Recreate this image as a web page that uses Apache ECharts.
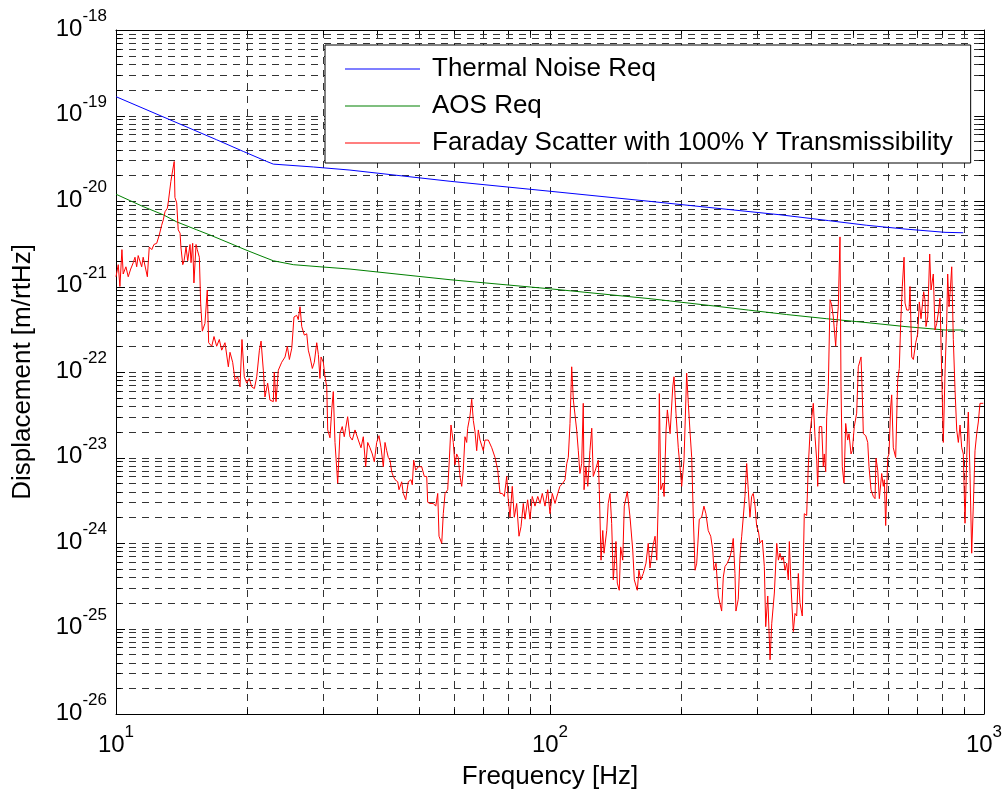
<!DOCTYPE html>
<html>
<head>
<meta charset="utf-8">
<script src="https://cdn.jsdelivr.net/npm/echarts@6/dist/echarts.min.js"></script>
<style>html,body{margin:0;padding:0;background:#fff}#c{width:1003px;height:795px}</style>
</head>
<body>
<div id="c"></div>
<script>
// ---------------- data ----------------
const seriesNames = ['Thermal Noise Req', 'AOS Req', 'Faraday Scatter with 100% Y Transmissibility'];

const freqThermal = [10, 17.06, 19.65, 22.25, 23.04, 28.49, 34.6, 58.85, 100, 170, 338.8, 437.8, 536.8, 657.7, 813.1, 896.1];
const dispThermal = [1.66e-19, 5.2e-20, 3.8e-20, 2.9e-20, 2.7e-20, 2.5e-20, 2.3e-20, 1.7e-20, 1.3e-20, 9.9e-21, 6.9e-21, 5.9e-21, 5.2e-21, 4.7e-21, 4.3e-21, 4.25e-21];

const freqAOS = [10, 11.55, 12.85, 13.80, 15.35, 16.47, 18.31, 19.83, 21.47, 23.04, 25.62, 29.51, 34.6, 58.85, 100, 170, 240, 286.3, 351.1, 434.1, 532, 657.7, 813.1, 896.1];
const dispAOS = [1.2e-20, 8.6e-21, 6.9e-21, 5.7e-21, 4.6e-21, 4.0e-21, 3.2e-21, 2.7e-21, 2.3e-21, 2.0e-21, 1.8e-21, 1.7e-21, 1.6e-21, 1.2e-21, 9.4e-22, 7.2e-22, 5.9e-22, 5.3e-22, 4.7e-22, 4.2e-22, 3.8e-22, 3.4e-22, 3.1e-22, 3.1e-22];

const freqFaraday = [
10.00,10.12,10.21,10.32,10.39,10.54,10.67,10.81,10.96,11.06,
11.16,11.25,11.46,11.55,11.81,11.93,12.09,12.23,12.41,12.58,
12.74,12.85,12.97,13.13,13.20,13.32,13.38,13.51,13.62,13.67,
13.80,13.91,14.05,14.11,14.25,14.35,14.50,14.63,14.81,14.89,
15.02,15.12,15.29,15.39,15.56,15.67,15.81,16.03,16.23,16.35,
16.62,16.82,17.06,17.30,17.52,17.83,18.15,18.31,18.57,18.80,
19.07,19.31,19.51,19.75,20.01,20.28,20.55,20.84,21.10,21.40,
21.59,21.85,22.04,22.36,22.63,23.04,23.16,23.37,23.66,24.09,
24.52,24.82,25.09,25.41,25.71,26.08,26.30,26.55,26.79,27.16,
27.51,27.74,27.99,28.34,28.64,29.01,29.26,29.51,29.68,30.04,
30.31,30.59,30.75,31.12,31.41,31.67,31.96,32.42,32.81,33.21,
33.57,33.82,34.18,34.60,35.03,35.54,36.17,36.69,37.14,37.61,
38.02,38.48,38.95,39.37,39.87,40.36,40.80,41.30,41.67,42.05,
42.41,42.79,43.18,43.55,43.95,44.58,44.88,45.53,45.92,46.51,
47.15,47.83,48.16,48.52,49.04,49.72,50.63,51.33,51.99,52.26,
52.91,53.84,54.54,55.12,55.50,56.30,56.77,57.30,58.12,58.61,
59.14,59.86,60.40,60.95,61.47,62.03,62.60,63.12,63.69,64.27,
64.61,65.42,66.01,66.58,67.18,67.78,68.36,68.98,69.60,70.20,
70.83,72.09,73.42,74.71,75.78,76.71,77.65,78.48,79.47,80.15,
80.87,81.86,82.74,83.80,84.83,85.74,86.79,87.58,88.82,89.92,
91.02,92.34,93.71,94.84,96.00,97.39,98.79,100.0,101.2,102.7,
104.2,105.4,107.0,108.3,109.3,110.2,111.2,112.2,113.2,115.2,
116.2,117.2,118.3,119.3,119.8,121.0,122.2,123.6,124.8,125.8,
127.6,129.2,129.9,131.1,132.3,133.2,135.1,136.2,137.5,138.7,
139.9,141.9,142.9,144.4,145.5,147.1,148.3,150.7,152.9,155.1,
156.4,158.9,160.3,161.8,164.0,166.4,168.4,170.0,172.5,174.6,
176.2,177.7,178.6,180.0,181.9,183.2,185.1,186.4,189.1,191.8,
193.1,195.1,197.5,199.3,201.1,203.6,206.5,208.3,210.2,212.1,
213.9,215.9,217.8,220.8,223.6,226.3,228.7,231.5,234.6,237.1,
238.7,241.3,244.2,246.4,248.6,250.8,253.0,256.1,259.8,262.2,
264.4,266.8,268.2,271.5,274.0,276.5,278.8,281.3,283.9,286.3,
288.9,291.5,294.0,296.8,299.4,302.0,304.7,308.5,311.8,314.1,
317.5,321.4,324.3,328.8,333.0,335.9,338.8,341.9,344.8,347.9,
351.1,354.1,356.0,359.2,363.6,366.9,370.2,373.4,376.7,381.3,
385.4,390.3,393.6,397.2,400.8,404.3,408.0,411.7,413.9,417.4,
422.7,426.3,428.5,431.8,434.1,437.8,441.8,445.7,449.6,455.3,
457.7,461.6,465.8,468.3,471.5,475.8,480.1,485.2,488.6,493.8,
497.2,502.5,508.9,513.3,520.8,524.4,527.2,534.0,539.6,543.3,
549.1,555.9,560.9,563.9,569.0,573.9,581.2,586.1,589.3,593.6,
600.0,604.1,609.5,612.8,618.0,625.9,632.6,638.0,642.7,648.3,
654.3,657.7,663.7,671.8,675.4,681.5,687.4,696.1,703.5,709.5,
715.9,720.8,726.1,731.1,735.2,741.8,749.7,754.9,764.2,771.1,
778.1,784.7,791.8,799.0,805.8,813.1,820.4,824.8,830.6,836.3,
842.6,849.8,857.5,865.3,872.7,880.6,888.5,896.1,904.2,912.4,
920.1,928.4,936.8,944.8,953.4,962.1,970.3,979.0,987.9,996.3
];
const dispFaraday = [
1.3e-21,1.8e-21,1.0e-21,2.7e-21,1.4e-21,1.7e-21,1.3e-21,1.6e-21,1.9e-21,2.2e-21,
1.7e-21,2.3e-21,1.7e-21,2.2e-21,1.3e-21,2.9e-21,2.7e-21,3.1e-21,3.2e-21,4.0e-21,
5.2e-21,6.0e-21,7.5e-21,8.2e-21,9.8e-21,1.03e-20,1.7e-20,2.3e-20,2.9e-20,1.1e-20,
9.5e-21,4.6e-21,4.2e-21,2.9e-21,1.8e-21,2.0e-21,2.9e-21,2.0e-21,3.1e-21,1.9e-21,
3.2e-21,1.1e-21,3.1e-21,2.7e-21,2.2e-21,6.4e-22,3.0e-22,3.7e-22,9.1e-22,2.2e-22,
2.0e-22,2.6e-22,2.0e-22,2.4e-22,1.8e-22,2.2e-22,1.15e-22,1.7e-22,1.3e-22,8.1e-23,
8.8e-23,6.7e-23,2.4e-22,8.8e-23,7.4e-23,8.4e-23,6.7e-23,6.4e-23,8.8e-23,1.8e-22,
2.3e-22,1.05e-22,5.1e-23,7.4e-23,4.7e-23,4.5e-23,1.0e-22,4.5e-23,1.05e-22,1.3e-22,
1.5e-22,2.0e-22,1.4e-22,1.9e-22,4.4e-22,4.6e-22,4.1e-22,5.8e-22,3.4e-22,2.7e-22,
2.8e-22,1.8e-22,1.5e-22,1.1e-22,1.3e-22,2.2e-22,1.6e-22,8.4e-23,1.5e-22,1.3e-22,
8.8e-23,6.7e-23,2.1e-23,1.7e-23,3.6e-23,5.9e-23,1.5e-23,5.0e-24,1.9e-23,2.3e-23,
1.75e-23,2.2e-23,3.0e-23,1.75e-23,1.6e-23,2.1e-23,1.6e-23,1.3e-23,1.75e-23,7.8e-24,
1.5e-23,1.3e-23,1.1e-23,8.9e-24,1.5e-23,1.8e-23,1.3e-23,7.8e-24,1.5e-23,1.2e-23,
1.0e-23,9.3e-24,6.8e-24,6.0e-24,5.5e-24,5.2e-24,4.2e-24,5.2e-24,3.8e-24,3.2e-24,
5.2e-24,5.5e-24,4.8e-24,9.3e-24,7.1e-24,7.8e-24,7.8e-24,6.0e-24,6.0e-24,3.0e-24,
2.9e-24,2.9e-24,2.7e-24,3.8e-24,1.2e-24,9.9e-25,2.2e-24,3.8e-24,4.2e-24,9.3e-24,
2.4e-23,1.5e-23,8.2e-24,1.1e-23,1.0e-23,6.0e-24,4.6e-24,7.1e-24,1.75e-23,1.5e-23,
2.2e-23,3.1e-23,4.8e-23,2.7e-23,2.0e-23,1.2e-23,2.1e-23,1.6e-23,1.6e-23,1.2e-23,
1.6e-23,1.6e-23,1.3e-23,1.0e-23,7.1e-24,3.8e-24,3.8e-24,3.5e-24,6.0e-24,3.2e-24,
2.0e-24,4.6e-24,2.0e-24,2.9e-24,1.2e-24,1.55e-24,2.9e-24,1.9e-24,3.2e-24,1.9e-24,
3.5e-24,2.7e-24,3.5e-24,2.9e-24,3.8e-24,2.7e-24,4.2e-24,2.2e-24,3.8e-24,2.9e-24,
3.8e-24,4.6e-24,5.0e-24,5.5e-24,8.5e-24,1.0e-23,2.5e-23,1.15e-22,4.7e-23,2.1e-23,
1.2e-23,6.5e-24,8.5e-24,4.3e-23,4.2e-24,7.8e-24,4.6e-24,1.2e-23,2.2e-23,6.0e-24,
7.5e-24,9.3e-24,4.2e-24,6.3e-25,1.4e-24,7.6e-25,1.4e-24,2.9e-24,3.8e-24,1.7e-24,
3.7e-25,1.04e-24,3.4e-25,2.8e-25,9.0e-25,6.3e-25,2.7e-24,4.0e-24,2.0e-24,8.3e-25,
3.7e-25,2.8e-25,4.8e-25,3.7e-25,4.4e-25,5.8e-25,9.9e-25,5.1e-25,9.0e-25,1.2e-24,
6.3e-25,3.5e-24,5.6e-23,4.2e-24,5.0e-24,3.5e-24,2.1e-23,3.6e-23,1.9e-23,6.7e-23,
8.8e-23,3.3e-23,1.3e-23,7.8e-24,4.6e-24,9.3e-24,9.7e-23,4.3e-23,2.0e-23,1.0e-23,
2.0e-24,4.8e-25,5.8e-25,1.9e-24,2.0e-24,2.7e-24,2.2e-24,1.4e-24,1.2e-24,8.3e-25,
4.8e-25,5.8e-25,2.4e-25,2.3e-25,1.6e-25,4.0e-25,5.3e-25,5.8e-25,6.9e-25,8.3e-25,
1.13e-24,4.4e-25,1.6e-25,2.2e-25,6.9e-25,1.2e-24,2.0e-24,3.5e-24,8.5e-24,4.2e-24,
2.0e-24,3.5e-24,3.8e-24,2.7e-24,1.55e-24,1.4e-24,1.0e-24,1.08e-24,5.3e-25,1.05e-25,
2.4e-25,4.3e-26,1.15e-25,2.6e-25,9.9e-25,6.3e-25,7.6e-25,6.3e-25,6.9e-25,4.8e-25,
5.8e-25,3.7e-25,1.04e-24,3.1e-25,9.2e-26,1.5e-25,1.4e-25,4.4e-25,2.0e-25,1.4e-25,
2.2e-24,2.1e-24,7.8e-24,1.9e-23,1.9e-23,4.3e-23,1.75e-23,9.3e-24,4.6e-24,2.3e-23,
2.3e-23,7.8e-24,1.1e-23,6.8e-24,3.0e-23,6.7e-23,7.0e-22,6.1e-22,4.4e-22,2.0e-22,
3.4e-22,5.8e-22,3.8e-21,6.7e-23,7.8e-24,5.0e-24,2.5e-23,1.6e-23,1.9e-23,1.1e-23,
1.2e-23,2.3e-23,3.3e-23,1.15e-22,1.5e-22,5.1e-23,1.9e-23,1.8e-23,1.5e-23,7.8e-24,
4.2e-24,3.5e-24,3.3e-24,9.8e-24,7.1e-24,3.3e-24,6.5e-24,4.6e-24,5.5e-24,1.6e-24,
1.0e-23,1.1e-23,3.9e-23,5.4e-23,1.3e-23,1.0e-23,8.1e-23,1.1e-22,3.7e-22,1.0e-21,
2.2e-21,6.4e-22,5.3e-22,5.3e-22,1.0e-21,1.5e-22,1.4e-22,2.2e-22,2.8e-22,6.6e-22,
4.2e-22,4.4e-22,8.7e-22,7.0e-22,3.4e-22,4.4e-22,2.4e-21,9.1e-22,1.4e-21,3.1e-22,
3.7e-22,4.9e-22,7.3e-22,9.7e-23,1.5e-23,9.7e-23,3.7e-22,1.4e-21,5.8e-22,9.1e-22,
1.7e-21,2.4e-22,6.2e-23,2.1e-23,1.5e-23,2.4e-23,1.3e-23,1.1e-23,1.7e-24,1.0e-23,
3.4e-23,6.5e-24,7.6e-25,2.7e-24,1.2e-23,1.9e-23,2.6e-23,4.3e-23,4.5e-23,4.3e-23
];

// axis ranges
const xMin = 10, xMax = 1000;
const yMinExp = -26, yMaxExp = -18;            // y axis spans 10^-26 .. 10^-18 m/rtHz
const xDecades = [10, 100];
const yExponents = [-26, -25, -24, -23, -22, -21, -20, -19];
const minorMultipliers = [1, 2, 3, 4, 5, 6, 7, 8, 9];

// ECharts' log scale rounds tick values to 20 decimals, so values below 1e-20
// are plotted in units of 1e-26 m/rtHz (a pure unit change); labels show real powers.
const UNIT_EXP = -26;
const UNIT = Math.pow(10, UNIT_EXP);
const toUnit = v => v / UNIT;

// ---------------- chart ----------------
const FONT = '"Liberation Sans", Arial, Helvetica, sans-serif';
const zip = (a, b) => a.map((v, i) => [v, toUnit(b[i])]);

const yMin = Math.pow(10, yMinExp - UNIT_EXP);  // 1
const yMax = Math.pow(10, yMaxExp - UNIT_EXP);  // 1e8

const xGrid = [];
xDecades.forEach(d => minorMultipliers.forEach(m => { const v = d * m; if (v > xMin && v < xMax) xGrid.push(v); }));
const yGrid = [];
yExponents.forEach(e => minorMultipliers.forEach(m => {
  const v = m * Math.pow(10, e - UNIT_EXP);
  if (v > yMin * 1.0001 && v < yMax * 0.9999) yGrid.push(v);
}));

const isDecade = v => Math.abs(Math.log10(v) - Math.round(Math.log10(v))) < 1e-6;
const GRID_COLOR = '#333333';
const DASH = [7, 6];

function renderXGrid(params, api) {
  const v = api.value(0);
  const pb = api.coord([v, yMin]);
  const pt = api.coord([v, yMax]);
  const x = Math.round(pb[0]) + 0.5;
  const tl = isDecade(v) ? 9 : 5;
  return { type: 'group', children: [
    { type: 'line', shape: { x1: x, y1: pb[1], x2: x, y2: pt[1] }, style: { stroke: GRID_COLOR, lineWidth: 1, lineDash: DASH } },
    { type: 'line', shape: { x1: x, y1: pb[1], x2: x, y2: pb[1] - tl }, style: { stroke: '#000', lineWidth: 1 } },
    { type: 'line', shape: { x1: x, y1: pt[1], x2: x, y2: pt[1] + tl }, style: { stroke: '#000', lineWidth: 1 } }
  ]};
}
function renderYGrid(params, api) {
  const v = api.value(1);
  const pl = api.coord([xMin, v]);
  const pr = api.coord([xMax, v]);
  const y = Math.round(pl[1]) + 0.5;
  const tl = isDecade(v) ? 9 : 5;
  return { type: 'group', children: [
    { type: 'line', shape: { x1: pl[0], y1: y, x2: pr[0], y2: y }, style: { stroke: GRID_COLOR, lineWidth: 1, lineDash: DASH } },
    { type: 'line', shape: { x1: pl[0], y1: y, x2: pl[0] + tl, y2: y }, style: { stroke: '#000', lineWidth: 1 } },
    { type: 'line', shape: { x1: pr[0], y1: y, x2: pr[0] - tl, y2: y }, style: { stroke: '#000', lineWidth: 1 } }
  ]};
}

const xLabel = v => '{b|10}{s|' + Math.round(Math.log10(v)) + '}';
const yLabel = v => '{b|10}{s|' + (Math.round(Math.log10(v)) + UNIT_EXP) + '}';
const rich = {
  b: { fontFamily: FONT, fontSize: 24, color: '#000', lineHeight: 24, verticalAlign: 'bottom' },
  s: { fontFamily: FONT, fontSize: 17, color: '#000', lineHeight: 33, verticalAlign: 'top', padding: [0, 0, 16, 0] }
};

const chart = echarts.init(document.getElementById('c'), null, { renderer: 'canvas' });
chart.setOption({
  animation: false,
  backgroundColor: '#fff',
  grid: { left: 116, top: 30, right: 19, bottom: 81, containLabel: false, outerBoundsMode: 'none' },
  xAxis: [
    {
      type: 'log', logBase: 10, min: xMin, max: xMax, splitNumber: 2, position: 'bottom',
      axisLine: { show: true, onZero: false, lineStyle: { color: '#000', width: 1 } },
      axisTick: { show: false }, minorTick: { show: false },
      splitLine: { show: false },
      axisLabel: { formatter: xLabel, rich: rich, margin: 10, showMinLabel: true, showMaxLabel: true },
      name: 'Frequency [Hz]', nameLocation: 'middle', nameGap: 50,
      nameTextStyle: { fontFamily: FONT, fontSize: 26, color: '#000' }
    },
    {
      type: 'log', logBase: 10, min: xMin, max: xMax, position: 'top',
      axisLine: { show: true, onZero: false, lineStyle: { color: '#000', width: 1 } },
      axisTick: { show: false }, axisLabel: { show: false }, splitLine: { show: false }
    }
  ],
  yAxis: [
    {
      type: 'log', logBase: 10, min: yMin, max: yMax, splitNumber: 8, position: 'left',
      axisLine: { show: true, onZero: false, lineStyle: { color: '#000', width: 1 } },
      axisTick: { show: false }, minorTick: { show: false },
      splitLine: { show: false },
      axisLabel: { formatter: yLabel, rich: rich, margin: 9, padding: [0, 0, 11, 0], showMinLabel: true, showMaxLabel: true },
      name: 'Displacement [m/rtHz]', nameLocation: 'middle', nameGap: 80,
      nameTextStyle: { fontFamily: FONT, fontSize: 26, color: '#000' }
    },
    {
      type: 'log', logBase: 10, min: yMin, max: yMax, position: 'right',
      axisLine: { show: true, onZero: false, lineStyle: { color: '#000', width: 1 } },
      axisTick: { show: false }, axisLabel: { show: false }, splitLine: { show: false }
    }
  ],
  legend: {
    data: seriesNames.map(n => ({ name: n, icon: 'rect' })),
    orient: 'vertical', left: 325, top: 45,
    itemWidth: 75, itemHeight: 1, itemGap: 7,
    padding: [9, 18, 5, 20],
    borderColor: '#000', borderWidth: 1, backgroundColor: '#fff',
    textStyle: { fontFamily: FONT, fontSize: 26, lineHeight: 30, color: '#000', padding: [0, 0, 0, 7] },
    selectedMode: false
  },
  series: [
    { type: 'custom', silent: true, z: 1, xAxisIndex: 0, yAxisIndex: 0, clip: false,
      data: xGrid.map(v => [v, 1e4]), encode: { x: 0, y: 1 }, renderItem: renderXGrid },
    { type: 'custom', silent: true, z: 1, xAxisIndex: 0, yAxisIndex: 0, clip: false,
      data: yGrid.map(v => [20, v]), encode: { x: 0, y: 1 }, renderItem: renderYGrid },
    { name: seriesNames[0], type: 'line', z: 3, data: zip(freqThermal, dispThermal), symbol: 'none', showSymbol: false,
      lineStyle: { color: '#0000ff', width: 1 }, itemStyle: { color: '#0000ff' } },
    { name: seriesNames[1], type: 'line', z: 3, data: zip(freqAOS, dispAOS), symbol: 'none', showSymbol: false,
      lineStyle: { color: '#008000', width: 1 }, itemStyle: { color: '#008000' } },
    { name: seriesNames[2], type: 'line', z: 4, data: zip(freqFaraday, dispFaraday), symbol: 'none', showSymbol: false,
      lineStyle: { color: '#ff0000', width: 1 }, itemStyle: { color: '#ff0000' } }
  ]
});
</script>
</body>
</html>
